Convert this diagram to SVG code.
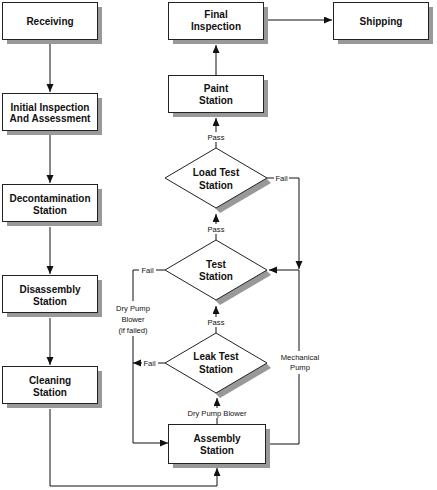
<svg xmlns="http://www.w3.org/2000/svg" width="437" height="490" viewBox="0 0 437 490">
<style>
.box{fill:#fff;stroke:#222;stroke-width:1}
.sh{fill:#999}
.t{font-family:"Liberation Sans",Arial,sans-serif;font-weight:bold;font-size:10px;fill:#111;text-anchor:middle}
.l{font-family:"Liberation Sans",Arial,sans-serif;font-size:7.6px;fill:#111;text-anchor:middle}
.c{fill:none;stroke:#111;stroke-width:1}
</style>
<defs>
<marker id="ah" markerUnits="userSpaceOnUse" markerWidth="9" markerHeight="8" refX="8" refY="3.5" orient="auto">
<path d="M0,0 L8,3.5 L0,7 z" fill="#111"/>
</marker>
</defs>
<rect x="0" y="0" width="437" height="490" fill="#fff"/>

<g id="connectors">
<path class="c" d="M50,44 V92" marker-end="url(#ah)"/>
<path class="c" d="M50,135 V183" marker-end="url(#ah)"/>
<path class="c" d="M50,227 V274" marker-end="url(#ah)"/>
<path class="c" d="M50,318 V365" marker-end="url(#ah)"/>
<path class="c" d="M50,409 V486 H217 V468" marker-end="url(#ah)"/>
<path class="c" d="M217,424 V418"/>
<path class="c" d="M217,408 V398" marker-end="url(#ah)"/>
<path class="c" d="M216,333 V327"/>
<path class="c" d="M216,317 V306" marker-end="url(#ah)"/>
<path class="c" d="M216,240 V234"/>
<path class="c" d="M216,224 V214" marker-end="url(#ah)"/>
<path class="c" d="M216,148 V142"/>
<path class="c" d="M216,132 V118" marker-end="url(#ah)"/>
<path class="c" d="M216,75 V45" marker-end="url(#ah)"/>
<path class="c" d="M268,20 H332" marker-end="url(#ah)"/>
<path class="c" d="M267,178 H274"/>
<path class="c" d="M289,178 H299 V269" marker-end="url(#ah)"/>
<path class="c" d="M299,270 H269" marker-end="url(#ah)"/>
<path class="c" d="M299,270 V351"/>
<path class="c" d="M299,374 V444 H270"/>
<path class="c" d="M165,270 H156"/>
<path class="c" d="M139,270 H133 V301"/>
<path class="c" d="M133,336 V443 H168" marker-end="url(#ah)"/>
<path class="c" d="M165,363 H158"/>
<path class="c" d="M142,363 H133" marker-end="url(#ah)"/>
<text class="l" x="217" y="416">Dry Pump Blower</text>
<text class="l" x="216" y="325">Pass</text>
<text class="l" x="216" y="232">Pass</text>
<text class="l" x="216" y="140">Pass</text>
<text class="l" x="281.5" y="181">Fail</text>
<text class="l" x="147.5" y="273">Fail</text>
<text class="l" x="149.5" y="366">Fail</text>
<text class="l" x="133" y="310.5">Dry Pump</text>
<text class="l" x="133" y="321.5">Blower</text>
<text class="l" x="133" y="332.5">(if failed)</text>
<text class="l" x="300" y="359.5">Mechanical</text>
<text class="l" x="300" y="370">Pump</text>
</g>

<g id="receiving">
<rect class="sh" x="7" y="7" width="95" height="37"/>
<rect class="box" x="2.5" y="2.5" width="95" height="37"/>
<text class="t" x="50" y="24.5">Receiving</text>
</g>
<g id="initial-inspection">
<rect class="sh" x="7" y="98" width="95" height="37"/>
<rect class="box" x="2.5" y="93.5" width="95" height="37"/>
<text class="t" x="50" y="110.5">Initial Inspection</text>
<text class="t" x="50" y="122">And Assessment</text>
</g>
<g id="decontamination">
<rect class="sh" x="7" y="189" width="95" height="37"/>
<rect class="box" x="2.5" y="184.5" width="95" height="37"/>
<text class="t" x="50" y="201.5">Decontamination</text>
<text class="t" x="50" y="213.5">Station</text>
</g>
<g id="disassembly">
<rect class="sh" x="7" y="280" width="95" height="37"/>
<rect class="box" x="2.5" y="275.5" width="95" height="37"/>
<text class="t" x="50" y="292.5">Disassembly</text>
<text class="t" x="50" y="304.5">Station</text>
</g>
<g id="cleaning">
<rect class="sh" x="7" y="371" width="95" height="37"/>
<rect class="box" x="2.5" y="366.5" width="95" height="37"/>
<text class="t" x="50" y="383.5">Cleaning</text>
<text class="t" x="50" y="395.5">Station</text>
</g>
<g id="final-inspection">
<rect class="sh" x="173" y="7" width="95" height="37"/>
<rect class="box" x="168.5" y="2.5" width="95" height="37"/>
<text class="t" x="216" y="17.5">Final</text>
<text class="t" x="216" y="30">Inspection</text>
</g>
<g id="shipping">
<rect class="sh" x="338" y="7" width="95" height="37"/>
<rect class="box" x="333.5" y="2.5" width="95" height="37"/>
<text class="t" x="381" y="24.5">Shipping</text>
</g>
<g id="paint">
<rect class="sh" x="173" y="80" width="95" height="37"/>
<rect class="box" x="168.5" y="75.5" width="95" height="37"/>
<text class="t" x="216" y="91.5">Paint</text>
<text class="t" x="216" y="104">Station</text>
</g>
<g id="load-test">
<polygon class="sh" points="266,178 271,183 220,213 215,208"/>
<polygon class="box" points="216,148 267,178 216,208 165,178"/>
<text class="t" x="216" y="176">Load Test</text>
<text class="t" x="216" y="188.5">Station</text>
</g>
<g id="test">
<polygon class="sh" points="266,270 271,275 220,305 215,300"/>
<polygon class="box" points="216,240 267,270 216,300 165,270"/>
<text class="t" x="216" y="267.5">Test</text>
<text class="t" x="216" y="280">Station</text>
</g>
<g id="leak-test">
<polygon class="sh" points="266,363 271,368 220,398 215,393"/>
<polygon class="box" points="216,333 267,363 216,393 165,363"/>
<text class="t" x="216" y="360">Leak Test</text>
<text class="t" x="216" y="372.5">Station</text>
</g>
<g id="assembly">
<rect class="sh" x="173" y="429" width="97" height="39"/>
<rect class="box" x="168.5" y="424.5" width="97" height="39"/>
<text class="t" x="217" y="441.5">Assembly</text>
<text class="t" x="217" y="454">Station</text>
</g>
</svg>
